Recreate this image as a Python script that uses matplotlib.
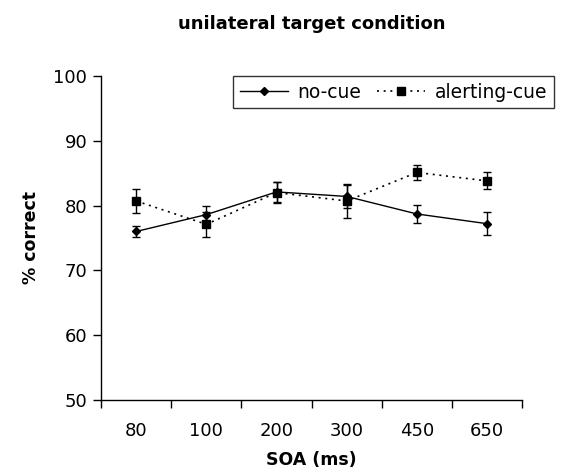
import numpy as np
import matplotlib.pyplot as plt
from matplotlib.lines import Line2D

plt.rcParams['font.family'] = ['DejaVu Sans']

soa = ["80", "100", "200", "300", "450", "650"]
no_cue = [76.0, 78.6, 82.1, 81.4, 78.7, 77.2]
no_cue_err = [0.9, 1.4, 1.6, 1.8, 1.4, 1.8]
alerting = [80.7, 77.1, 82.0, 80.7, 85.1, 83.8]
alerting_err = [1.9, 1.9, 1.6, 2.6, 1.2, 1.3]

x = np.arange(1, len(soa) + 1)
dots = (0, (1.2, 2.8))

fig = plt.figure(figsize=(5.62, 4.74), dpi=100)
ax = fig.add_axes([0.18, 0.156, 0.749, 0.684])

ax.errorbar(x, no_cue, yerr=no_cue_err, color='black', linestyle='-', linewidth=1,
            marker='D', markersize=4.5, capsize=3, elinewidth=1, capthick=1)
ax.errorbar(x, alerting, yerr=alerting_err, color='black', linestyle=dots, linewidth=1.2,
            marker='s', markersize=6, capsize=3, elinewidth=1, capthick=1)

ax.set_xlim(0.5, len(soa) + 0.5)
ax.set_ylim(50, 100)
ax.set_yticks([50, 60, 70, 80, 90, 100])
ax.set_xticks(np.arange(0.5, len(soa) + 0.6, 1))
ax.set_xticklabels([])
ax.set_xticks(x, minor=True)
ax.set_xticklabels(soa, minor=True)
ax.tick_params(axis='x', which='major', direction='out', length=6, width=1)
ax.tick_params(axis='x', which='minor', length=0, pad=16, labelsize=13)
ax.tick_params(axis='y', direction='out', length=6, width=1, labelsize=13, pad=4)

for s in ['top', 'right']:
    ax.spines[s].set_visible(False)
for s in ['left', 'bottom']:
    ax.spines[s].set_linewidth(1)

ax.set_title('unilateral target condition', fontsize=13, fontweight='bold', pad=34)
ax.set_xlabel('SOA (ms)', fontsize=12.5, fontweight='bold', labelpad=8)
ax.set_ylabel('% correct', fontsize=12.5, fontweight='bold', labelpad=10)

handles = [
    Line2D([], [], color='black', linestyle='-', linewidth=1, marker='D', markersize=4.5),
    Line2D([], [], color='black', linestyle=dots, linewidth=1.2, marker='s', markersize=6),
]
leg = ax.legend(handles, ['no-cue', 'alerting-cue'], ncol=2, loc='upper left',
                bbox_to_anchor=(233 / 562, 1 - 76 / 474), bbox_transform=fig.transFigure,
                fontsize=13.5, frameon=True, fancybox=False, edgecolor='black',
                handlelength=2.6, handletextpad=0.5, columnspacing=0.8,
                borderpad=0.35, borderaxespad=0)
leg.get_frame().set_linewidth(1)

fig.savefig('out.png', dpi=100)
